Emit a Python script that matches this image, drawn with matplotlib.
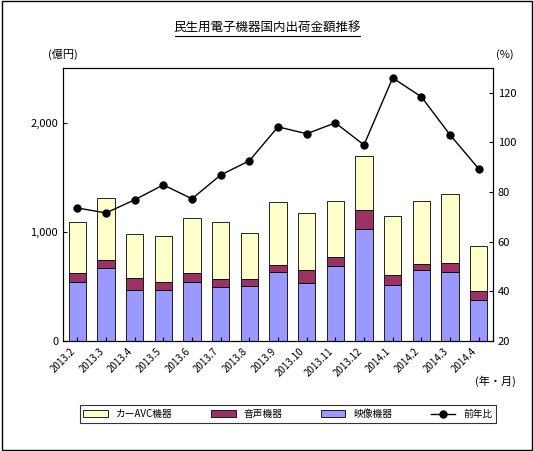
import matplotlib
matplotlib.use("Agg")
import matplotlib.pyplot as plt
from matplotlib.patches import Rectangle
from matplotlib.lines import Line2D

plt.rcParams['font.family'] = ['Noto Sans CJK JP', 'DejaVu Sans']

months = ["2013.2","2013.3","2013.4","2013.5","2013.6","2013.7","2013.8","2013.9","2013.10","2013.11","2013.12","2014.1","2014.2","2014.3","2014.4"]
video = [541,670,468,468,541,495,505,633,532,688,1028,514,651,633,376]
audio_top = [624,743,578,541,624,569,569,697,651,771,1202,606,706,716,459]
total = [1092,1312,982,963,1128,1092,991,1275,1174,1284,1697,1147,1284,1349,872]
yoy = [73.6,71.6,76.9,82.9,77.3,86.9,92.6,106.3,103.5,107.9,99.0,126.0,118.4,103.1,89.4]

audio = [a - v for a, v in zip(audio_top, video)]
car = [t - a for t, a in zip(total, audio_top)]

fig = plt.figure(figsize=(5.34, 4.51), dpi=100)
fig.patches.append(Rectangle((0.003, 0.003), 0.994, 0.994, transform=fig.transFigure, fill=False, ec='black', lw=1))
ax = fig.add_axes([63/534, 1-341/451, 430/534, 273/451])
x = list(range(len(months)))
w = 0.6
ax.bar(x, video, w, color='#9999FF', ec='black', lw=0.6)
ax.bar(x, audio, w, bottom=video, color='#993366', ec='black', lw=0.6)
ax.bar(x, car, w, bottom=audio_top, color='#FFFFCC', ec='black', lw=0.6)
ax.set_ylim(0, 2500)
ax.set_xlim(-0.5, len(months)-0.5)
ax.set_yticks([0, 1000, 2000])
ax.set_yticklabels(["0", "1,000", "2,000"], fontsize=8)
ax.set_xticks(x)
ax.set_xticklabels(months, rotation=45, ha='right', fontsize=7)
ax.tick_params(direction='in', length=3)
ax2 = ax.twinx()
ax2.plot(x, yoy, color='black', marker='o', ms=5, lw=1)
ax2.set_ylim(20, 130)
ax2.set_yticks([20, 40, 60, 80, 100, 120])
ax2.tick_params(direction='in', length=3, labelsize=8)
fig.text(63/534, 1-58/451, "(億円)", fontsize=8, ha='center')
fig.text(505/534, 1-58/451, "(%)", fontsize=8, ha='center')
fig.text(495/534, 1-385/451, "(年・月)", fontsize=8, ha='center')
fig.text(0.5, 1-28/451, "民生用電子機器国内出荷金額推移", fontsize=9, ha='center', va='center')
fig.add_artist(Line2D([175/534, 360/534], [1-36/451, 1-36/451], color='black', lw=0.8))

handles = [Rectangle((0,0),1,1,fc='#FFFFCC',ec='black',lw=0.6),
           Rectangle((0,0),1,1,fc='#993366',ec='black',lw=0.6),
           Rectangle((0,0),1,1,fc='#9999FF',ec='black',lw=0.6),
           Line2D([],[],color='black',marker='o',ms=5,lw=1)]
leg = fig.legend(handles, ["カーAVC機器","音声機器","映像機器","前年比"], loc='center',
                 bbox_to_anchor=(288/534, 1-414/451), ncol=4, fontsize=7, frameon=True,
                 fancybox=False, edgecolor='black', columnspacing=4, handlelength=2.5)
leg.get_frame().set_linewidth(0.8)
fig.savefig("out.png", dpi=100)
